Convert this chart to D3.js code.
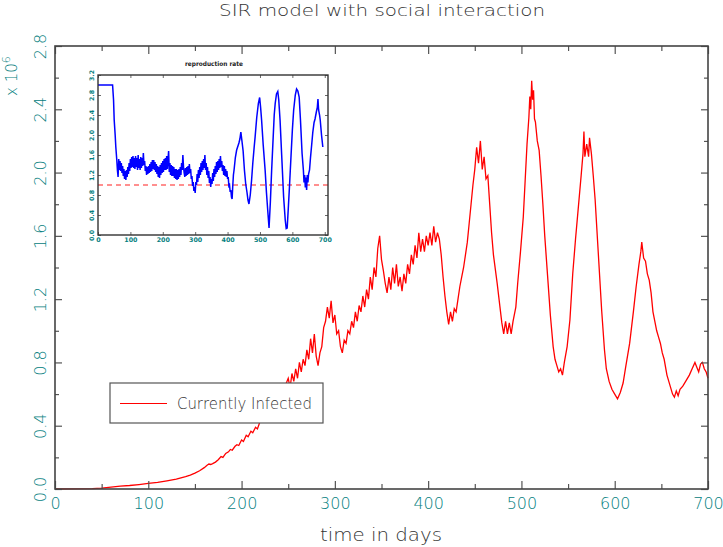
<!DOCTYPE html>
<html>
<head>
<meta charset="utf-8">
<script src="https://cdn.jsdelivr.net/npm/d3@7"></script>
<style>
body { margin: 0; background: white; }
svg { display: block; }
</style>
</head>
<body>
<script>
// currently infected (millions), [day, value]
var infected = [[0,0],[20,0.001],[40,0.002],[50,0.006],[60,0.012],[70,0.018],[80,0.022],[90,0.028],[100,0.035],[110,0.042],[120,0.052],[130,0.063],[140,0.078],[145,0.088],[150,0.1],[155,0.115],[160,0.135],[163,0.15],[165,0.158],[167,0.155],[169,0.16],[172,0.17],[175,0.185],[178,0.205],[180,0.2],[183,0.225],[186,0.235],[188,0.25],[190,0.245],[193,0.27],[195,0.28],[197,0.275],[200,0.31],[202,0.3],[205,0.34],[207,0.33],[210,0.365],[212,0.355],[215,0.39],[217,0.38],[220,0.43],[223,0.44],[226,0.47],[230,0.5],[234,0.53],[238,0.57],[242,0.6],[246,0.64],
  [250,0.70],[252,0.64],[254,0.73],[256,0.68],[258,0.76],[260,0.70],[262,0.80],[264,0.74],[266,0.82],[268,0.78],[270,0.88],[272,0.82],[274,0.95],[276,0.86],[278,0.98],[280,0.84],[282,0.78],[284,0.86],[286,0.90],[288,1.02],[290,1.06],[292,1.15],[294,1.08],[296,1.19],[298,1.05],[300,1.10],[302,0.98],[304,1.00],[306,0.90],[308,0.86],[310,0.94],[312,0.92],[314,1.00],[316,0.98],[318,1.06],[320,1.02],[322,1.12],[324,1.06],[326,1.16],[328,1.12],[330,1.22],[332,1.15],[334,1.26],[336,1.20],[338,1.34],[340,1.26],[342,1.40],[344,1.34],[346,1.52],[348,1.60],[350,1.45],[352,1.38],[354,1.30],[356,1.24],[358,1.34],[360,1.26],[362,1.40],[364,1.30],[366,1.42],[368,1.28],[370,1.34],[372,1.25],[374,1.36],[376,1.30],[378,1.42],[380,1.36],[382,1.48],[384,1.42],[386,1.54],[388,1.46],[390,1.62],[392,1.50],[394,1.58],[396,1.50],[398,1.60],[400,1.54],[402,1.62],[404,1.54],[406,1.66],[408,1.56],[410,1.62],[412,1.58],[414,1.48],[416,1.34],[418,1.22],[420,1.12],[422,1.04],[424,1.12],[426,1.06],[428,1.14],[430,1.12],[432,1.20],[434,1.28],[436,1.34],[438,1.40],[440,1.48],[442,1.56],[444,1.68],[446,1.80],[448,1.92],[450,2.02],[452,2.16],[454,2.06],[456,2.20],[458,2.02],[460,2.10],[462,1.96],[464,1.98],[466,1.80],[468,1.62],[470,1.48],[474,1.30],[477,1.15],[479,1.05],[481,0.98],[483,1.06],[485,0.98],[487,1.05],[489,0.98],[491,1.06],[494,1.15],[496,1.30],[499,1.50],[502,1.72],[504,1.95],[506,2.18],[508,2.35],[509,2.48],[510,2.40],[511,2.58],[512,2.46],[513,2.52],[514,2.34],[515,2.32],[517,2.20],[519,2.14],[521,1.98],[523,1.80],[525,1.60],[528,1.35],[531,1.10],[534,0.90],[536,0.82],[538,0.78],[540,0.74],[542,0.76],[544,0.72],[546,0.80],[549,0.90],[552,1.07],[555,1.36],[558,1.58],[561,1.78],[564,1.98],[566,2.12],[567,2.26],[568,2.10],[570,2.18],[572,2.10],[573,2.22],[575,2.12],[577,1.98],[579,1.83],[582,1.53],[586,1.13],[589,0.88],[591,0.76],[594,0.68],[597,0.63],[600,0.60],[603,0.57],[606,0.61],[609,0.67],[612,0.78],[616,0.92],[620,1.12],[623,1.28],[626,1.42],[628,1.50],[629,1.56],[631,1.46],[633,1.44],[635,1.36],[637,1.32],[639,1.24],[641,1.12],[643,1.06],[645,1.00],[647,0.96],[649,0.92],[651,0.86],[653,0.82],[656,0.72],[659,0.66],[662,0.60],[664,0.58],[666,0.62],[668,0.59],[670,0.63],[673,0.65],[677,0.69],[680,0.72],[683,0.76],[686,0.80],[688,0.77],[690,0.74],[692,0.79],[694,0.80],[696,0.76],[698,0.74],[700,0.70]];

// reproduction rate (inset), [day, value]
var reproRate = [[0,3.0],[45,3.0],[48,2.7],[50,2.3],[53,2.0],[55,1.76],[58,1.5],[60,1.29],[62,1.16],
  [64,1.52],[66,1.30],[68,1.48],[70,1.28],[72,1.44],[74,1.24],[76,1.38],[78,1.18],[80,1.32],[82,1.12],[84,1.28],[86,1.10],[88,1.30],[90,1.16],[92,1.36],[94,1.22],[96,1.44],[98,1.28],[100,1.52],[102,1.34],[104,1.56],[106,1.36],[108,1.58],[110,1.34],[112,1.54],[114,1.32],[116,1.58],[118,1.36],[120,1.54],[122,1.30],[124,1.60],[126,1.34],[128,1.52],[130,1.30],[132,1.56],[134,1.34],[136,1.54],[138,1.38],[140,1.64],[142,1.40],[144,1.48],[146,1.28],[148,1.38],[150,1.20],[152,1.36],[154,1.22],[156,1.38],[158,1.24],[160,1.42],[162,1.26],[164,1.46],[166,1.28],[168,1.50],[170,1.32],[172,1.50],[174,1.30],[176,1.46],[178,1.26],[180,1.42],[182,1.22],[184,1.38],[186,1.16],[188,1.36],[190,1.14],[192,1.40],[194,1.20],[196,1.44],[198,1.24],[200,1.48],[202,1.26],[204,1.52],[206,1.30],[208,1.54],[210,1.30],[212,1.58],[214,1.32],[216,1.50],[218,1.68],[220,1.26],[222,1.44],[224,1.20],[226,1.40],[228,1.18],[230,1.38],[232,1.18],[234,1.36],[236,1.14],[238,1.32],[240,1.12],[242,1.32],[244,1.10],[246,1.30],[248,1.12],[250,1.32],[252,1.16],[254,1.36],[256,1.20],[258,1.44],[260,1.30],[262,1.60],[264,1.36],[266,1.24],[268,1.16],[270,1.34],[272,1.18],[274,1.36],[276,1.20],[278,1.38],[280,1.22],[282,1.42],[284,1.24],[286,1.32],[288,1.12],[290,1.18],[292,0.98],[294,1.06],[296,0.88],[298,0.96],[300,0.84],[302,1.06],[304,1.00],[306,1.22],[308,1.06],[310,1.30],[312,1.14],[314,1.36],[316,1.20],[318,1.44],[320,1.26],[322,1.48],[324,1.30],[326,1.52],[328,1.34],[330,1.60],[332,1.30],[334,1.44],[336,1.20],[338,1.36],[340,1.14],[342,1.28],[344,1.04],[346,1.16],[348,0.96],[350,1.12],[352,1.02],[354,1.24],[356,1.08],[358,1.32],[360,1.16],[362,1.38],[364,1.22],[366,1.46],[368,1.26],[370,1.48],[372,1.30],[374,1.52],[376,1.34],[378,1.58],[380,1.36],[382,1.48],[384,1.28],[386,1.40],[388,1.20],[390,1.38],[392,1.18],[394,1.32],[396,1.16],[398,1.28],[400,1.12],[402,1.16],[404,0.98],[406,1.00],[408,0.86],[410,0.90],[412,0.76],[414,0.72],[416,0.98],[418,1.20],[420,1.30],
  [424,1.55],[428,1.70],[432,1.78],[435,1.84],[438,1.92],[441,2.06],[444,1.90],[448,1.68],[452,1.30],[456,1.02],[460,0.85],[463,0.70],[466,0.62],[470,0.80],[474,1.09],[478,1.45],[482,1.75],[485,1.96],[490,2.35],[495,2.63],[499,2.75],[502,2.55],[505,2.30],[510,1.80],[516,1.29],[520,0.85],[524,0.49],[528,0.14],[532,0.65],[536,1.29],[540,1.85],[544,2.40],[547,2.63],[551,2.82],[555,2.87],[558,2.70],[562,2.30],[567,1.60],[573,0.76],[578,0.30],[581,0.13],[584,0.14],[588,0.60],[591,0.96],[596,1.60],[600,2.10],[604,2.50],[609,2.80],[613,2.92],[617,2.88],[621,2.76],[625,2.30],[630,1.63],[634,1.30],[636,1.05],[638,1.20],[640,0.95],[642,1.15],[644,0.90],[646,1.20],[648,1.05],[650,1.22],[653,1.30],[656,1.55],[659,1.76],[663,2.05],[667,2.25],[670,2.32],[674,2.46],[677,2.55],[679,2.72],[681,2.50],[684,2.40],[686,2.30],[690,2.00],[694,1.76]];

var threshold = 1.0;

var xTicks = [0, 100, 200, 300, 400, 500, 600, 700];
var xMinor = [50, 150, 250, 350, 450, 550, 650];
var yTicks = [0, 0.4, 0.8, 1.2, 1.6, 2.0, 2.4, 2.8];
var yMinor = [0.2, 0.6, 1.0, 1.4, 1.8, 2.2, 2.6];
var insetXTicks = [0, 100, 200, 300, 400, 500, 600, 700];
var insetYTicks = [0, 0.4, 0.8, 1.2, 1.6, 2.0, 2.4, 2.8, 3.2];

var svgWidth = 723, svgHeight = 547;
var teal = "#058080";
var grey = "#333";
var font = "'DejaVu Sans', sans-serif";

var svg = d3.select("body").append("svg").attr("width", svgWidth).attr("height", svgHeight);

var x = d3.scaleLinear().domain([0, 700]).range([55, 708]);
var y = d3.scaleLinear().domain([0, 2.8]).range([489, 46]);

// main curve
var line = d3.line().x(d => x(d[0])).y(d => y(d[1]));
svg.append("path")
    .datum(infected)
    .attr("d", line)
    .attr("fill", "none")
    .attr("stroke", "#ff0000")
    .attr("stroke-width", 1.3);

// ticks, all pointing inwards
function styleAxis(g) {
    g.select(".domain").remove();
    g.selectAll(".tick line").attr("stroke", "#555").attr("stroke-width", 1.2);
    g.selectAll(".tick text").attr("fill", teal).attr("font-family", font).attr("font-weight", 200);
}

svg.append("g").attr("transform", "translate(0,489)")
    .call(d3.axisBottom(x).tickValues(xTicks).tickSize(-8).tickPadding(9).tickFormat(d3.format("d")))
    .call(styleAxis)
    .selectAll(".tick text").attr("font-size", 16);
svg.append("g").attr("transform", "translate(0,489)")
    .call(d3.axisBottom(x).tickValues(xMinor).tickSize(-5).tickFormat(""))
    .call(styleAxis);
svg.append("g").attr("transform", "translate(0,46)")
    .call(d3.axisTop(x).tickValues(xTicks).tickSize(-8).tickFormat(""))
    .call(styleAxis);
svg.append("g").attr("transform", "translate(0,46)")
    .call(d3.axisTop(x).tickValues(xMinor).tickSize(-5).tickFormat(""))
    .call(styleAxis);

svg.append("g").attr("transform", "translate(55,0)")
    .call(d3.axisLeft(y).tickValues(yTicks).tickSize(-7).tickFormat(d3.format(".1f")))
    .call(styleAxis)
    .selectAll(".tick text")
    .attr("font-size", 16)
    .attr("x", 0).attr("y", 0).attr("dy", "0.36em")
    .attr("text-anchor", "middle")
    .attr("transform", "translate(-15,0) rotate(-90)");
svg.append("g").attr("transform", "translate(55,0)")
    .call(d3.axisLeft(y).tickValues(yMinor).tickSize(-4).tickFormat(""))
    .call(styleAxis);
svg.append("g").attr("transform", "translate(708,0)")
    .call(d3.axisRight(y).tickValues(yTicks).tickSize(-7).tickFormat(""))
    .call(styleAxis);
svg.append("g").attr("transform", "translate(708,0)")
    .call(d3.axisRight(y).tickValues(yMinor).tickSize(-4).tickFormat(""))
    .call(styleAxis);

// frame
svg.append("rect")
    .attr("x", 55).attr("y", 46).attr("width", 653).attr("height", 443)
    .attr("fill", "none").attr("stroke", "#444").attr("stroke-width", 1.6);

// titles
svg.append("text")
    .attr("x", 382).attr("y", 16)
    .attr("text-anchor", "middle")
    .attr("font-family", font).attr("font-weight", 200).attr("font-size", 16)
    .attr("fill", grey)
    .attr("textLength", 326).attr("lengthAdjust", "spacingAndGlyphs")
    .text("SIR model with social interaction");

svg.append("text")
    .attr("x", 381).attr("y", 541)
    .attr("text-anchor", "middle")
    .attr("font-family", font).attr("font-weight", 200).attr("font-size", 18)
    .attr("fill", grey)
    .attr("textLength", 122).attr("lengthAdjust", "spacingAndGlyphs")
    .text("time in days");

var unit = svg.append("text")
    .attr("transform", "translate(17,96) rotate(-90)")
    .attr("font-family", font).attr("font-weight", 200).attr("font-size", 15)
    .attr("fill", teal);
unit.append("tspan").text("x 10");
unit.append("tspan").attr("dy", -7).attr("font-size", 11).text("6");

// legend
svg.append("rect")
    .attr("x", 110).attr("y", 383).attr("width", 213).attr("height", 40)
    .attr("fill", "white").attr("stroke", "#555").attr("stroke-width", 1.2);
svg.append("line")
    .attr("x1", 120).attr("x2", 167).attr("y1", 403.5).attr("y2", 403.5)
    .attr("stroke", "#ff0000").attr("stroke-width", 1.2);
svg.append("text")
    .attr("x", 177).attr("y", 409)
    .attr("font-family", font).attr("font-weight", 200).attr("font-size", 15)
    .attr("fill", grey)
    .attr("textLength", 135).attr("lengthAdjust", "spacingAndGlyphs")
    .text("Currently Infected");

// inset: reproduction rate
var ix = d3.scaleLinear().domain([0, 710]).range([98, 328]);
var iy = d3.scaleLinear().domain([0, 3.2]).range([235, 75]);

svg.append("rect")
    .attr("x", 98).attr("y", 75).attr("width", 230).attr("height", 160)
    .attr("fill", "white");

svg.append("line")
    .attr("x1", ix(0)).attr("x2", 328)
    .attr("y1", iy(threshold)).attr("y2", iy(threshold))
    .attr("stroke", "#ff2020").attr("stroke-width", 1.2)
    .attr("stroke-dasharray", "5,4");

var iline = d3.line().x(d => ix(d[0])).y(d => iy(d[1]));
svg.append("path")
    .datum(reproRate)
    .attr("d", iline)
    .attr("fill", "none")
    .attr("stroke", "#0000ff")
    .attr("stroke-width", 1.5);

function styleInset(g) {
    g.select(".domain").remove();
    g.selectAll(".tick line").attr("stroke", "#444").attr("stroke-width", 0.8);
    g.selectAll(".tick text").attr("fill", teal).attr("font-family", font)
        .attr("font-weight", "bold").attr("font-size", 6.3);
}

svg.append("g").attr("transform", "translate(0,235)")
    .call(d3.axisBottom(ix).tickValues(insetXTicks).tickSize(-3).tickPadding(3).tickFormat(d3.format("d")))
    .call(styleInset);
svg.append("g").attr("transform", "translate(0,75)")
    .call(d3.axisTop(ix).tickValues(insetXTicks).tickSize(-3).tickFormat(""))
    .call(styleInset);
svg.append("g").attr("transform", "translate(98,0)")
    .call(d3.axisLeft(iy).tickValues(insetYTicks).tickSize(-3).tickFormat(d3.format(".1f")))
    .call(styleInset)
    .selectAll(".tick text")
    .attr("x", 0).attr("y", 0).attr("dy", "0.36em")
    .attr("text-anchor", "middle")
    .attr("transform", "translate(-6.5,0) rotate(-90)");
svg.append("g").attr("transform", "translate(328,0)")
    .call(d3.axisRight(iy).tickValues(insetYTicks).tickSize(-3).tickFormat(""))
    .call(styleInset);

svg.append("rect")
    .attr("x", 98).attr("y", 75).attr("width", 230).attr("height", 160)
    .attr("fill", "none").attr("stroke", "#333").attr("stroke-width", 1.4);

svg.append("text")
    .attr("x", 214).attr("y", 66)
    .attr("text-anchor", "middle")
    .attr("font-family", font).attr("font-weight", "bold").attr("font-size", 6.3)
    .attr("fill", "#222")
    .attr("textLength", 58).attr("lengthAdjust", "spacingAndGlyphs")
    .text("reproduction rate");
</script>
</body>
</html>
